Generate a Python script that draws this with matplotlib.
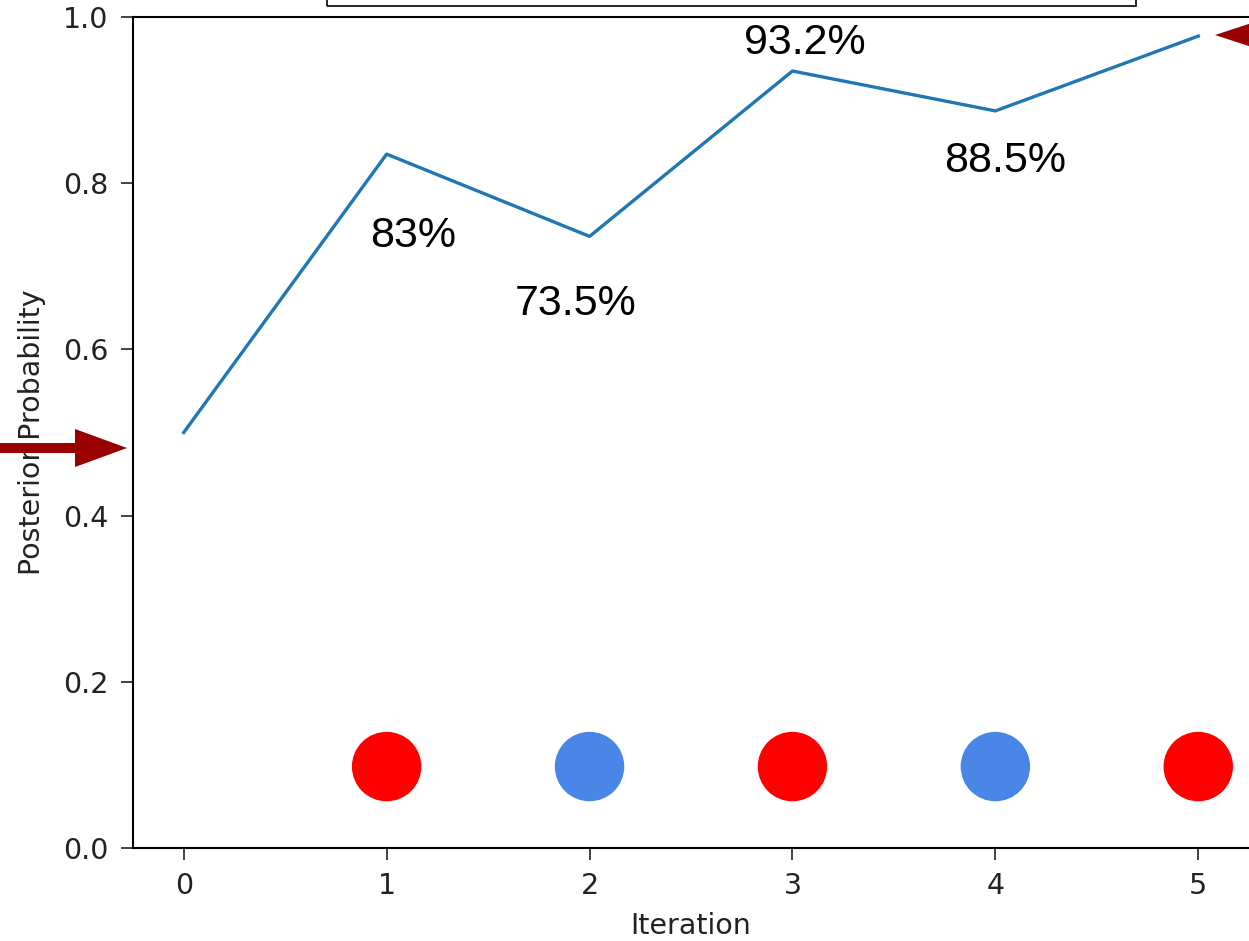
import matplotlib

matplotlib.use("Agg")
import matplotlib.pyplot as plt
from matplotlib.patches import FancyArrow, Rectangle

# data
iterations = [0, 1, 2, 3, 4, 5]
posterior = [0.50, 0.835, 0.736, 0.935, 0.887, 0.977]

ball_x = [1, 2, 3, 4, 5]
ball_y = [0.098, 0.098, 0.098, 0.098, 0.098]
ball_colors = ["#ff0000", "#4a86e8", "#ff0000", "#4a86e8", "#ff0000"]

pct_labels = ["83%", "73.5%", "93.2%", "88.5%"]
pct_x = [1.13, 1.93, 3.06, 4.05]
pct_y = [0.723, 0.641, 0.955, 0.814]

W, H = 1249, 941
fig = plt.figure(figsize=(W / 100, H / 100), dpi=100)
ax = fig.add_axes([133 / W, 1 - 848 / H, (W - 133) / W, (848 - 17) / H])

ax.plot(iterations, posterior, color="#1f77b4", linewidth=2.4)
ax.scatter(ball_x, ball_y, s=2500, c=ball_colors, zorder=3, linewidths=0)

for label, x, y in zip(pct_labels, pct_x, pct_y):
    ax.text(x, y, label, ha="center", va="baseline", fontsize=31,
            family=["Liberation Sans", "DejaVu Sans"])

ax.set_xlim(-0.25, 5.25)
ax.set_ylim(0, 1.0)
ax.set_xticks(iterations)
ax.set_yticks([0.0, 0.2, 0.4, 0.6, 0.8, 1.0])
ax.set_yticklabels(["0.0", "0.2", "0.4", "0.6", "0.8", "1.0"])
ax.tick_params(labelsize=20.5, length=8.5, width=1.2, pad=9, colors="#222222")
ax.spines["right"].set_visible(False)
for side in ("left", "top", "bottom"):
    ax.spines[side].set_linewidth(1.5)

ax.set_xlabel("Iteration", fontsize=20.5, color="#222222")
ax.set_ylabel("Posterior Probability", fontsize=20.5, color="#222222")
ax.yaxis.set_label_coords(32 / W, 1 - 432 / H, transform=fig.transFigure)
ax.xaxis.set_label_coords(691 / W, 1 - 926 / H, transform=fig.transFigure)
ax.xaxis.label.set_va("center")
ax.yaxis.label.set_va("center")

# box cut off at the top of the picture
fig.add_artist(Rectangle((327 / W, 1 - 6 / H), (1136 - 327) / W, 0.05,
                         transform=fig.transFigure, fill=False,
                         edgecolor="black", linewidth=1.2, clip_on=False))

# dark red arrows pointing into the plot
arrow_color = "#990000"
fig.add_artist(FancyArrow(0, 1 - 448 / H, 127 / W, 0, width=10 / H,
                          head_width=38 / H, head_length=52 / W,
                          length_includes_head=True, color=arrow_color,
                          linewidth=0, transform=fig.transFigure))
fig.add_artist(FancyArrow(1.12, 1 - 35 / H, 1215 / W - 1.12, 0, width=10 / H,
                          head_width=34 / H, head_length=52 / W,
                          length_includes_head=True, color=arrow_color,
                          linewidth=0, transform=fig.transFigure))

fig.savefig("out.png", dpi=100)
